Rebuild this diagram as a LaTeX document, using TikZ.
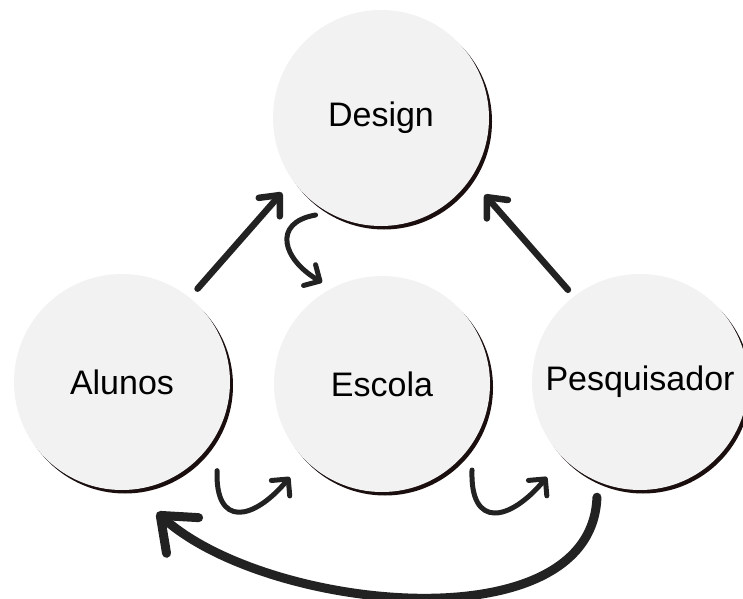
\documentclass[tikz,border=0pt]{standalone}
\usepackage{fontspec}
\setmainfont{Liberation Sans}
\usepackage{xcolor}
\usepackage{tikz}
\usetikzlibrary{arrows.meta, calc, shadows}
\definecolor{bubblefill}{RGB}{242,242,242}
\definecolor{shadowink}{RGB}{26,14,14}
\definecolor{penink}{RGB}{34,34,34}

\begin{document}
\begin{tikzpicture}[
  x=1pt, y=1pt,
  bubble/.style={circle, fill=bubblefill, minimum size=216pt, inner sep=0pt,
    drop shadow={shadow xshift=3pt, shadow yshift=-3.5pt, fill=shadowink, opacity=1},
    font=\fontsize{34}{40}\selectfont},
  pen/.style={draw=penink, line cap=round, line join=round},
  link/.style={pen, line width=6.5pt, -{Straight Barb[length=16pt, width=28pt, round]}},
  curl/.style={pen, line width=5pt, -{Straight Barb[length=12pt, width=24pt, round]}},
  loopback/.style={pen, line width=9pt, -{Straight Barb[length=30pt, width=48pt, round]}}
]
\useasboundingbox (0,0) rectangle (743,598);

% ---- the four circles ----
\node[bubble] (design) at (381,480) {Design};
\node[bubble] (alunos) at (122,216) {Alunos};
\node[bubble] (escola) at (382,214) {Escola};
\node[bubble] (pesq)   at (640,216) {Pesquisador};

% ---- arrows up to Design ----
\draw[link] ($(alunos)+(51:120)$) -- ($(design)+(217:124)$);
\draw[link] ($(pesq)+(128:117)$) -- ($(design)+(-36.5:129)$);

% Design down to Escola
\draw[curl] ($(design)+(-124:117)$) to[out=190, in=150, looseness=1.7] ($(escola)+(120.5:118)$);

% ---- small curls along the bottom ----
\draw[curl] ($(alunos)+(-43:130)$) to[out=-92, in=-130, looseness=2] ($(escola)+(-134.7:131)$);
\draw[curl] ($(escola)+(-43.7:124.5)$) to[out=-92, in=-130, looseness=2] ($(pesq)+(-134.4:133)$);

% Pesquisador back to Alunos
\draw[loopback] ($(pesq)+(-110.5:123)$) to[out=-92, in=-42, looseness=0.86] ($(alunos)+(-75:135)$);
\end{tikzpicture}
\end{document}
